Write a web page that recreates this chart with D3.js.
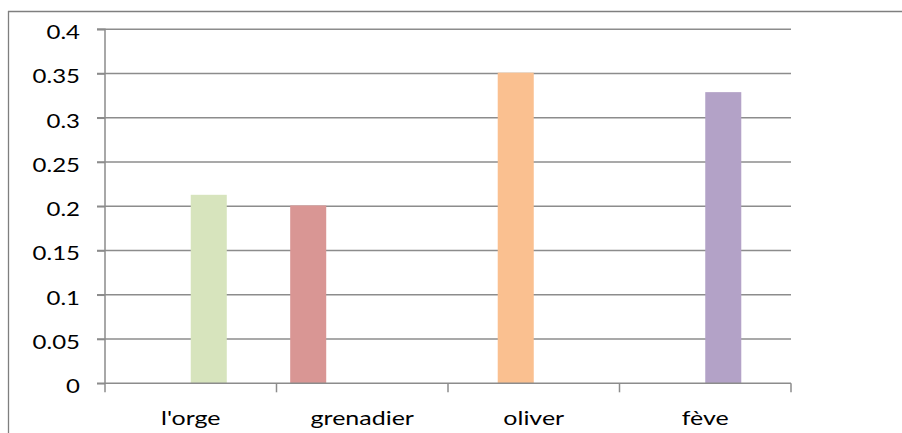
<!DOCTYPE html>
<html><head><meta charset="utf-8">
<script src="https://cdn.jsdelivr.net/npm/d3@7"></script>
<style>body{margin:0;background:#fff}svg{display:block}</style>
</head><body>
<svg id="c" width="902" height="433"></svg>
<script>
const categories = ["l'orge", "grenadier", "oliver", "fève"];
const seriesNames = ["S1", "S2", "S3", "S4"];
const series1 = [null, 0.201, null, null];
const series2 = [null, null, 0.351, null];
const series3 = [0.213, null, null, 0.329];
const series4 = [null, null, null, null];
const yTicks = [0, 0.05, 0.1, 0.15, 0.2, 0.25, 0.3, 0.35, 0.4];
const barColors = ["#d7e4bd", "#d99694", "#fac090", "#b3a2c7"];

const allSeries = [series1, series2, series3, series4];
const svg = d3.select("#c");
const font = "Lato, 'Open Sans', sans-serif";
const sx = 1.2;
const m = {left: 105, right: 791, top: 29.3, bottom: 383.3};

const x = d3.scaleBand().domain(categories).range([m.left, m.right]).paddingInner(0).paddingOuter(0);
const xs = d3.scaleBand().domain(seriesNames).range([0, x.bandwidth()]).paddingInner(0).paddingOuter(0.38);
const y = d3.scaleLinear().domain([0, 0.4]).range([m.bottom, m.top]);

// frame
svg.append("line").attr("x1", 8).attr("x2", 902).attr("y1", 11.5).attr("y2", 11.5).attr("stroke", "#7f7f7f").attr("stroke-width", 1.3);
svg.append("line").attr("x1", 8.5).attr("x2", 8.5).attr("y1", 11).attr("y2", 433).attr("stroke", "#7f7f7f").attr("stroke-width", 1.3);

// gridlines
svg.append("g").selectAll("line").data(yTicks.filter(d => d > 0)).join("line")
  .attr("x1", m.left - 8).attr("x2", m.right)
  .attr("y1", d => y(d)).attr("y2", d => y(d))
  .attr("stroke", "#8c8c8c").attr("stroke-width", 1.5);

// bars
const bars = [];
allSeries.forEach((s, si) => s.forEach((v, ci) => { if (v != null) bars.push({s: seriesNames[si], c: categories[ci], v, ci}); }));
svg.append("g").selectAll("rect").data(bars).join("rect")
  .attr("x", d => x(d.c) + xs(d.s)).attr("width", xs.bandwidth())
  .attr("y", d => y(d.v)).attr("height", d => y(0) - y(d.v))
  .attr("fill", d => barColors[d.ci]);

// y axis
const yAxis = d3.axisLeft(y).tickValues(yTicks).tickSize(8).tickPadding(17).tickFormat(d => String(+d.toFixed(2)));
const gy = svg.append("g").attr("transform", `translate(${m.left},0)`).call(yAxis);
gy.select(".domain").attr("stroke", "#8c8c8c").attr("stroke-width", 1.5).attr("d", `M-8,${m.top}H0V${m.bottom}`);
gy.selectAll(".tick line").attr("stroke", "#8c8c8c").attr("stroke-width", 1.5);
gy.selectAll(".tick text").attr("font-family", font).attr("font-size", 20).attr("fill", "#000")
  .attr("x", -25 / sx).attr("dy", 9.2).attr("transform", `scale(${sx},1)`);

// x axis
const xAxis = d3.axisBottom(x).tickSize(0).tickPadding(0);
const gx = svg.append("g").attr("transform", `translate(0,${m.bottom})`).call(xAxis);
gx.select(".domain").attr("stroke", "#8c8c8c").attr("stroke-width", 1.5).attr("d", `M${m.left - 8},0H${m.right}`);
gx.selectAll(".tick text").attr("font-family", font).attr("font-size", 20).attr("fill", "#000")
  .attr("y", 42).attr("dy", 0).attr("transform", `scale(1.25,1)`);
// boundary ticks
const bounds = categories.map(c => x(c)).concat([x(categories[categories.length - 1]) + x.bandwidth()]);
gx.append("g").selectAll("line").data(bounds).join("line")
  .attr("x1", d => d).attr("x2", d => d).attr("y1", 0).attr("y2", 9)
  .attr("stroke", "#8c8c8c").attr("stroke-width", 1.5);
</script>
</body></html>
